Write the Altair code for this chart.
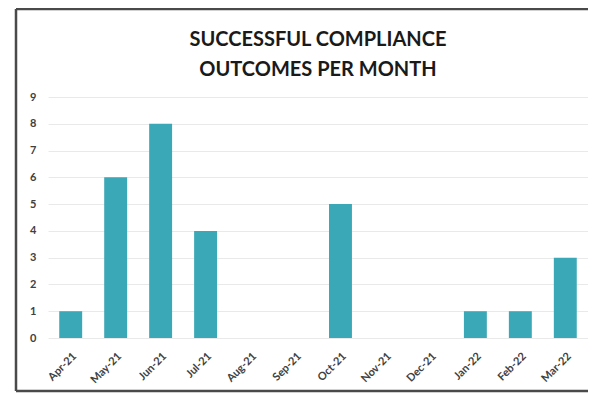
import altair as alt
import pandas as pd

months = ["Apr-21", "May-21", "Jun-21", "Jul-21", "Aug-21", "Sep-21",
          "Oct-21", "Nov-21", "Dec-21", "Jan-22", "Feb-22", "Mar-22"]
outcomes = [1, 6, 8, 4, 0, 0, 5, 0, 0, 1, 1, 3]
y_ticks = list(range(0, 10))

df = pd.DataFrame({"month": months, "outcomes": outcomes})

FONT = "Lato"
W, H = 540, 241
PAD_L, PAD_T, PAD_R, PAD_B = 40, 89, 0, 55

bars = alt.Chart(df).mark_bar(color="#3AA8B6").encode(
    x=alt.X("month:N", sort=months,
            scale=alt.Scale(paddingInner=0.49, paddingOuter=0.25),
            axis=alt.Axis(title=None, labelAngle=-45, labelFont=FONT,
                          labelFontSize=11, labelFontWeight="bold",
                          labelColor="#404040", ticks=False, tickSize=0,
                          domain=False, labelPadding=12, grid=False)),
    y=alt.Y("outcomes:Q", scale=alt.Scale(domain=[0, 9], nice=False),
            axis=alt.Axis(title=None, values=y_ticks, labelFont=FONT,
                          labelFontSize=11, labelFontWeight="bold",
                          labelColor="#404040", ticks=False, tickSize=0,
                          domain=False, labelPadding=12,
                          gridColor="#e9e9e9", gridWidth=1)),
)

frame_style = dict(stroke="#4a4a4a", strokeWidth=2.5, clip=False)
one = alt.Data(values=[{}])
x_left, x_right = -PAD_L + 8, W + 100
y_top, y_bot = -PAD_T + 1, H + PAD_B - 2

top_line = alt.Chart(one).mark_rule(**frame_style).encode(
    x=alt.value(x_left), x2=alt.value(x_right), y=alt.value(y_top))
bot_line = alt.Chart(one).mark_rule(**frame_style).encode(
    x=alt.value(x_left), x2=alt.value(x_right), y=alt.value(y_bot))
left_line = alt.Chart(one).mark_rule(**frame_style).encode(
    x=alt.value(x_left), y=alt.value(y_top), y2=alt.value(y_bot))

chart = alt.layer(bars, top_line, bot_line, left_line).properties(
    width=W, height=H,
    title=alt.Title(["SUCCESSFUL COMPLIANCE", "OUTCOMES PER MONTH"],
                    font=FONT, fontSize=20, fontWeight="bold",
                    color="#1a1a1a", lineHeight=30, offset=-72,
                    anchor="middle"),
    autosize=alt.AutoSizeParams(type="none"),
    padding={"left": PAD_L, "top": PAD_T, "right": PAD_R, "bottom": PAD_B},
).configure_view(stroke=None)

chart.save("out.html", embed_options={"renderer": "svg", "actions": False})
